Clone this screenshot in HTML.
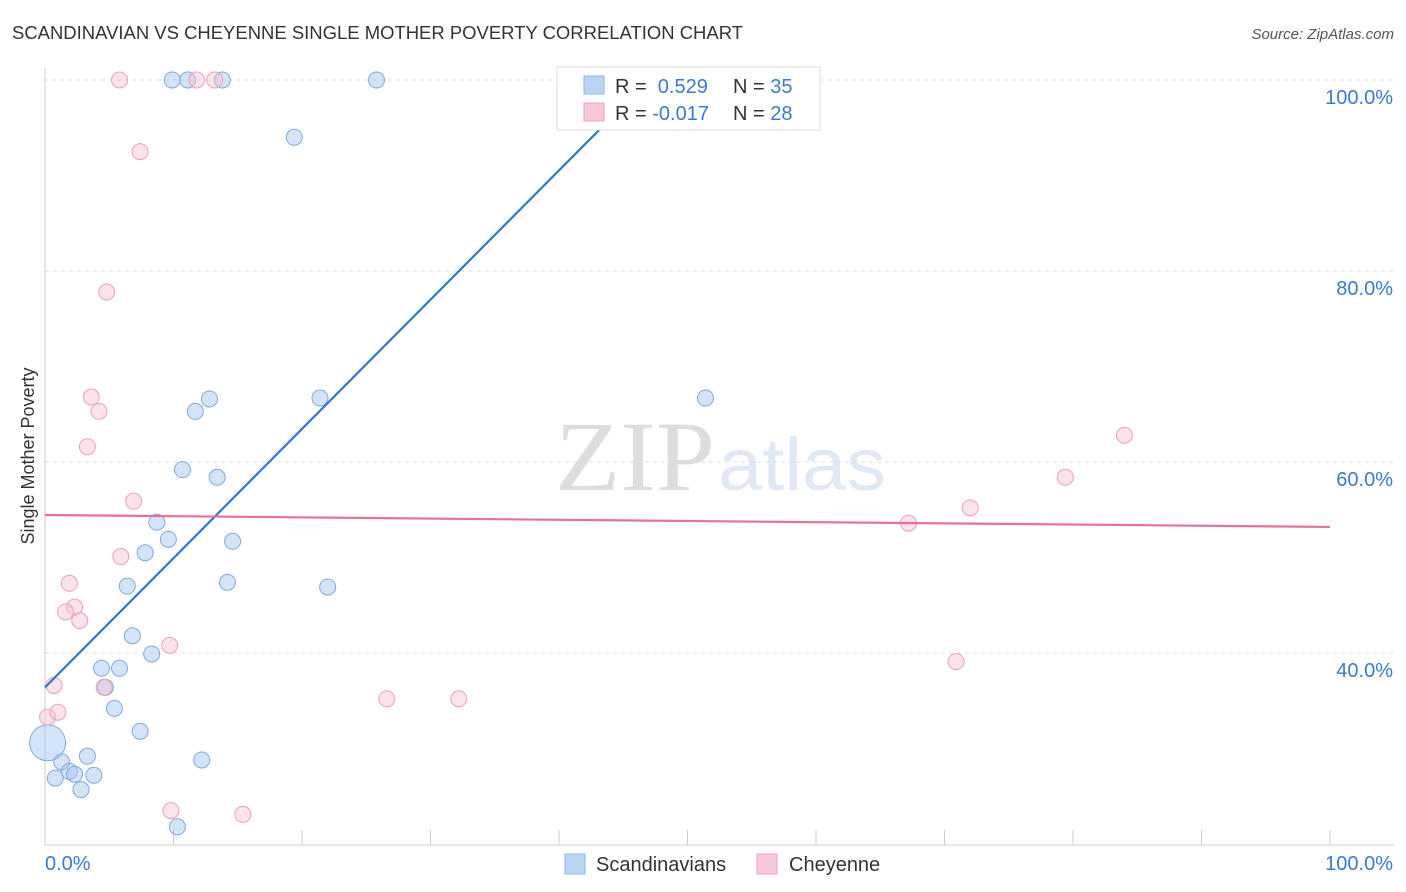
<!DOCTYPE html>
<html><head><meta charset="utf-8"><style>
body{margin:0;background:#fff;font-family:"Liberation Sans",sans-serif;}
svg{display:block}
</style></head><body>
<svg id="chart" width="1406" height="892">
<text x="12" y="39" font-size="18" fill="#333" textLength="731" lengthAdjust="spacingAndGlyphs">SCANDINAVIAN VS CHEYENNE SINGLE MOTHER POVERTY CORRELATION CHART</text>
<text x="1394" y="39" font-size="15" fill="#555" font-style="italic" text-anchor="end">Source: ZipAtlas.com</text>
<text x="555" y="490" font-size="100" fill="#ddd" textLength="160" lengthAdjust="spacingAndGlyphs" font-family="Liberation Serif">ZIP</text>
<text x="718" y="490" font-size="74" fill="#dfe8f5" textLength="168" lengthAdjust="spacingAndGlyphs">atlas</text>
<text transform="translate(34,456) rotate(-90)" font-size="18" fill="#333" text-anchor="middle">Single Mother Poverty</text>
<g id="grid"></g><g id="ticks"></g><g id="marks"></g>
<g>
<rect x="557" y="67" width="263" height="63" fill="#fff" stroke="#ddd"/>
<rect x="584" y="76" width="20" height="18" fill="#b9d3f5" stroke="#8fb4e8"/>
<rect x="584" y="103" width="20" height="18" fill="#f9c8d6" stroke="#f0a0b8"/>
<text x="615" y="93" font-size="20" fill="#333">R = <tspan fill="#3b78d8">&#160;0.529</tspan><tspan x="733">N = </tspan><tspan fill="#3b78d8">35</tspan></text>
<text x="615" y="120" font-size="20" fill="#333">R = <tspan fill="#3b78d8">-0.017</tspan><tspan x="733">N = </tspan><tspan fill="#3b78d8">28</tspan></text>
</g>
<g>
<rect x="565" y="854" width="20" height="20" fill="#b9d3f5" stroke="#8fb4e8"/>
<text x="596" y="871" font-size="20" fill="#333">Scandinavians</text>
<rect x="757" y="854" width="20" height="20" fill="#f9c8d6" stroke="#f0a0b8"/>
<text x="789" y="871" font-size="20" fill="#333">Cheyenne</text>
</g>
</svg>
<script>
const yTicks=[40,60,80,100];
const yTickLabels=["40.0%","60.0%","80.0%","100.0%"];
const xTicks=[0,10,20,30,40,50,60,70,80,90,100];
const blueX=[9.9,11.1,13.8,25.8,19.4,12.8,11.7,21.4,51.4,10.7,13.4,8.7,9.6,7.8,14.6,6.4,14.2,22.0,6.8,8.3,4.4,5.8,4.7,5.4,7.4,3.3,1.3,1.9,2.3,3.8,0.8,2.8,12.2,10.3,0.2];
const blueY=[100,100,100,100,94.0,66.6,65.3,66.7,66.7,59.2,58.4,53.7,51.9,50.5,51.7,47.0,47.4,46.9,41.8,39.9,38.4,38.4,36.4,34.2,31.8,29.2,28.6,27.6,27.3,27.2,26.9,25.7,28.8,21.8,30.6];
const pinkX=[5.8,11.8,13.2,7.4,4.8,3.6,4.2,3.3,6.9,5.9,1.9,2.3,1.6,2.7,9.7,4.6,0.7,0.2,1.0,26.6,32.2,9.8,15.4,67.2,72.0,79.4,84.0,70.9];
const pinkY=[100,100,100,92.5,77.8,66.8,65.3,61.6,55.9,50.1,47.3,44.8,44.3,43.4,40.8,36.4,36.6,33.3,33.8,35.2,35.2,23.5,23.1,53.6,55.2,58.4,62.8,39.1];
const blueLine=[[0,36.4],[45,97.3]];
const pinkLine=[[0,54.45],[100,53.2]];
const NS="http://www.w3.org/2000/svg";
const xs=v=>45+v*12.85, ys=v=>80+(100-v)*9.55;
function mk(t,a,p){const e=document.createElementNS(NS,t);for(const k in a)e.setAttribute(k,a[k]);p.appendChild(e);return e;}
const grid=document.getElementById('grid'),ticks=document.getElementById('ticks'),marks=document.getElementById('marks');
yTicks.forEach((v,i)=>{
 const l=mk('line',{x1:45,x2:1394,y1:ys(v),y2:ys(v),stroke:'#ddd','stroke-dasharray':'4,4'},grid);
 
 
 const t=mk('text',{x:1393,y:ys(v)+24,'font-size':20,fill:'#3b78d8','text-anchor':'end'},ticks);
 t.textContent=yTickLabels[i];
 
 
});
const ax=mk('line',{x1:45,x2:45,y1:68,y2:845,stroke:'#ccc'},grid);


const bx=mk('line',{x1:45,x2:1394,y1:845,y2:845,stroke:'#ccc'},grid);


xTicks.forEach(v=>{
 const l=mk('line',{x1:xs(v),x2:xs(v),y1:830,y2:845,stroke:'#ccc'},ticks);
 
 
});
[["0.0%",45,'start'],["100.0%",1393,'end']].forEach(a=>{
 const t=mk('text',{x:a[1],y:870,'font-size':20,fill:'#3b78d8','text-anchor':a[2]},ticks);
 t.textContent=a[0];
 
 
});
blueX.forEach((x,i)=>{
 const c=mk('circle',{cx:xs(x),cy:ys(blueY[i]),r:i==34?18:8,fill:'rgba(160,196,240,0.45)',stroke:'#7fa9e0','stroke-width':1},marks);
 
 
});
pinkX.forEach((x,i)=>{
 const c=mk('circle',{cx:xs(x),cy:ys(pinkY[i]),r:8,fill:'rgba(248,190,208,0.45)',stroke:'#eea0b8','stroke-width':1},marks);
 
 
});
const bl=mk('line',{x1:xs(blueLine[0][0]),y1:ys(blueLine[0][1]),x2:xs(blueLine[1][0]),y2:ys(blueLine[1][1]),stroke:'#2f74d6','stroke-width':2.2},marks);


const pl=mk('line',{x1:xs(pinkLine[0][0]),y1:ys(pinkLine[0][1]),x2:xs(pinkLine[1][0]),y2:ys(pinkLine[1][1]),stroke:'#e8709a','stroke-width':2.2},marks);


</script>
</body></html>
